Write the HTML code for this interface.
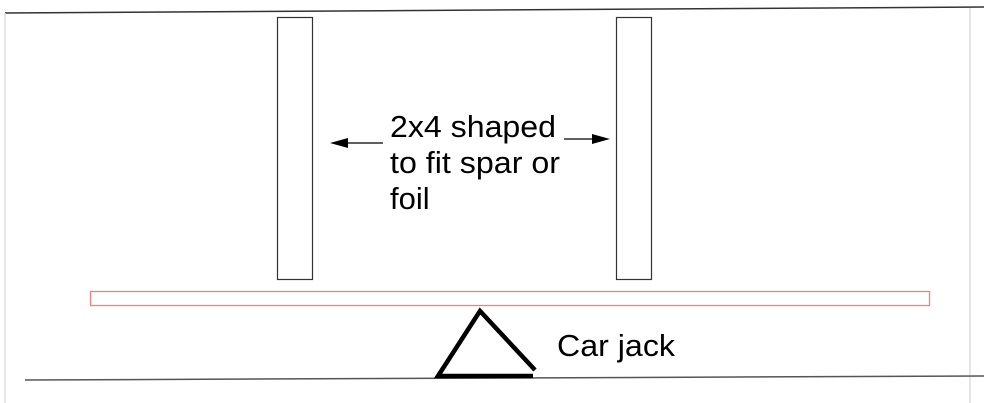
<!DOCTYPE html>
<html><head><style>
body{margin:0;background:#fff;}
svg{display:block;}
text{font-family:"Liberation Sans",Arial,sans-serif;fill:#000;}
</style></head><body>
<svg width="984" height="403" viewBox="0 0 984 403">
<line x1="5" y1="13" x2="984" y2="7" stroke="#333" stroke-width="1.5"/>
<line x1="5" y1="13" x2="5" y2="403" stroke="#ddd" stroke-width="1.5"/>
<line x1="970" y1="8" x2="970" y2="403" stroke="#ddd" stroke-width="1.5"/>
<line x1="25" y1="380" x2="984" y2="376" stroke="#555" stroke-width="1.5"/>
<rect x="277.5" y="17.5" width="35" height="262" fill="none" stroke="#333" stroke-width="1.2"/>
<rect x="616.5" y="17.5" width="35" height="262" fill="none" stroke="#333" stroke-width="1.2"/>
<rect x="90.5" y="291.5" width="839" height="14" fill="none" stroke="#f08080" stroke-width="1.3"/>
<polyline points="535,370 480,311 438,376 533,376" fill="none" stroke="#000" stroke-width="4.5" stroke-linejoin="miter"/>
<line x1="345" y1="143" x2="383" y2="143" stroke="#000" stroke-width="1.3"/>
<polygon points="330,143 348,138 348,148" fill="#000"/>
<line x1="564" y1="139" x2="595" y2="139" stroke="#000" stroke-width="1.3"/>
<polygon points="610,139 592,134 592,144" fill="#000"/>
<text x="390" y="137" font-size="31" textLength="166" lengthAdjust="spacingAndGlyphs">2x4 shaped</text>
<text x="390" y="173" font-size="31" textLength="170" lengthAdjust="spacingAndGlyphs">to fit spar or</text>
<text x="390" y="209" font-size="31">foil</text>
<text x="557" y="356" font-size="31" textLength="118" lengthAdjust="spacingAndGlyphs">Car jack</text>
</svg>
</body></html>
